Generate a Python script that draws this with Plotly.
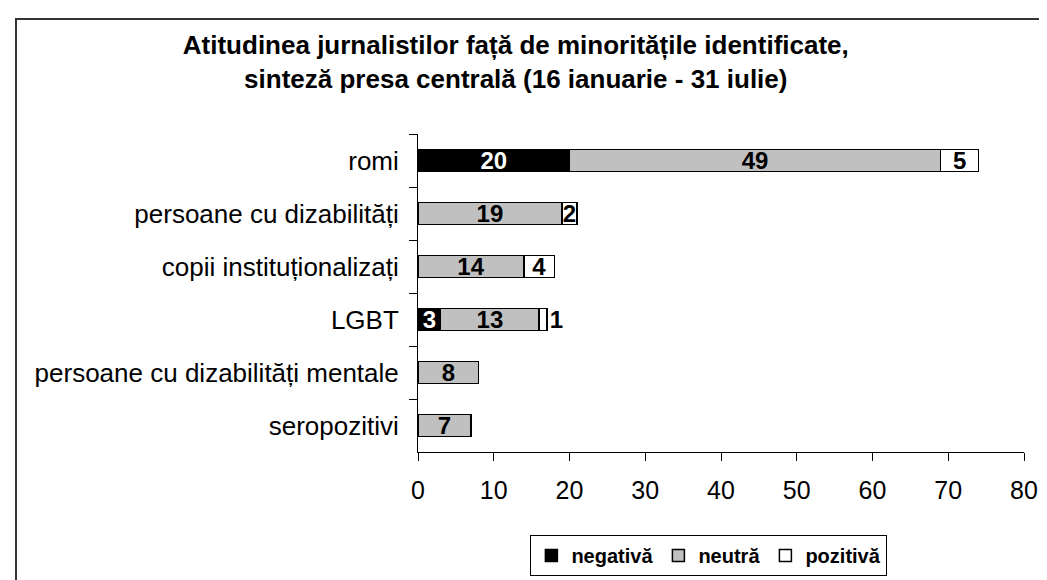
import plotly.graph_objects as go

# Categories (top to bottom) and counts per attitude
categories = ["romi", "persoane cu dizabilități", "copii instituționalizați", "LGBT",
              "persoane cu dizabilități mentale", "seropozitivi"]
negativa = [20, 0, 0, 3, 0, 0]
neutra = [49, 19, 14, 13, 8, 7]
pozitiva = [5, 2, 4, 1, 0, 0]

FONT = "Liberation Sans, Arial, sans-serif"
L, R, T, B = 410, 31, 126, 128
PW = 1047 - L - R
PH = 580 - T - B


def labels(vals):
    return [str(v) if v else "" for v in vals]


fig = go.Figure()

fig.add_trace(go.Bar(
    y=categories, x=negativa, orientation="h", name="negativă",
    marker=dict(color="black", line=dict(color="black", width=1.5)),
    text=labels(negativa), textposition="inside", insidetextanchor="middle",
    constraintext="none", textangle=0,
    textfont=dict(family=FONT, size=24, color="white", weight="bold"),
))
fig.add_trace(go.Bar(
    y=categories, x=neutra, orientation="h", name="neutră",
    marker=dict(color="#c0c0c0", line=dict(color="black", width=1.5)),
    text=labels(neutra), textposition="inside", insidetextanchor="middle",
    constraintext="none", textangle=0,
    textfont=dict(family=FONT, size=24, color="black", weight="bold"),
))
fig.add_trace(go.Bar(
    y=categories, x=pozitiva, orientation="h", name="pozitivă",
    marker=dict(color="white", line=dict(color="black", width=1.5)),
    text=labels(pozitiva),
    textposition=["inside" if v > 1 else "outside" for v in pozitiva],
    insidetextanchor="middle", constraintext="none", textangle=0,
    cliponaxis=False,
    textfont=dict(family=FONT, size=24, color="black", weight="bold"),
))

fig.update_layout(
    barmode="stack",
    bargap=0.58,
    width=1047,
    height=580,
    paper_bgcolor="white",
    plot_bgcolor="white",
    margin=dict(l=L, r=R, t=T, b=B),
    font=dict(family=FONT, color="black"),
    title=dict(
        text="Atitudinea jurnalistilor față de minoritățile identificate,<br>"
             "sinteză presa centrală (16 ianuarie - 31 iulie)",
        x=0.485, xanchor="center", xref="container",
        y=1 - 46 / 580, yanchor="top", yref="container",
        font=dict(family=FONT, size=26, color="black", weight="bold"),
    ),
    legend=dict(
        orientation="h",
        x=0.48, xanchor="center",
        y=(PH - (537 - T)) / PH, yanchor="top",
        bordercolor="black", borderwidth=1,
        itemwidth=30,
        font=dict(family=FONT, size=20, color="black", weight="bold"),
        traceorder="normal",
    ),
    shapes=[dict(
        type="rect", xref="paper", yref="paper",
        x0=(8 - L) / PW, x1=1.1, y0=-0.6, y1=1 + (T - 8) / PH,
        line=dict(color="#333333", width=2), fillcolor="rgba(0,0,0,0)",
        layer="below",
    )],
)

fig.update_xaxes(
    range=[0, 80], dtick=10, tick0=0,
    showgrid=False, zeroline=False,
    showline=True, linecolor="black", linewidth=1,
    ticks="outside", ticklen=8, tickcolor="black",
    ticklabelstandoff=8,
    tickfont=dict(family=FONT, size=25, color="black"),
)
fig.update_yaxes(
    autorange="reversed",
    showgrid=False, zeroline=False,
    showline=True, linecolor="black", linewidth=1,
    ticks="outside", ticklen=8, tickcolor="black", tickson="boundaries",
    ticklabelstandoff=13,
    tickfont=dict(family=FONT, size=26, color="black"),
)

fig.write_html("out.html")
